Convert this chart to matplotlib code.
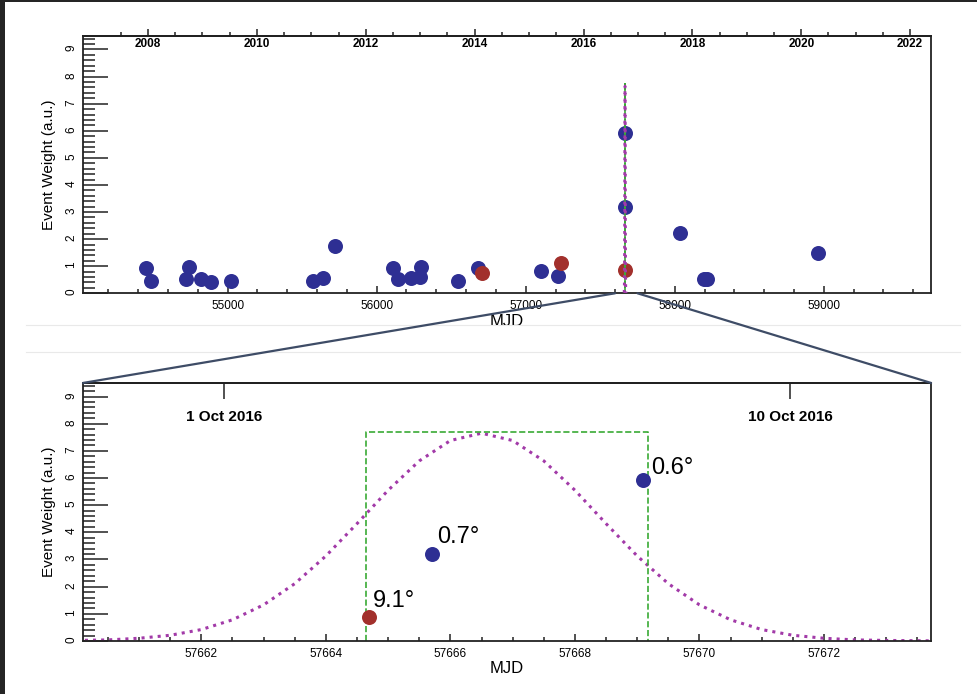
import matplotlib
matplotlib.use("Agg")
import matplotlib.pyplot as plt
from matplotlib.ticker import MultipleLocator, FixedLocator, FormatStrFormatter
from matplotlib.patches import ConnectionPatch, Rectangle
from matplotlib.lines import Line2D

plt.rcParams['font.family'] = ['Liberation Sans', 'DejaVu Sans']

# events (MJD, weight)
blue_mjd = [54451, 54483, 54718, 54740, 54823, 54890, 55020, 55575, 55642, 55721,
            56110, 56142, 56231, 56291, 56296, 56545, 56681, 57102, 57216,
            57665.70, 57669.10, 58033, 58194, 58217, 58962]
blue_weight = [0.95, 0.45, 0.52, 0.96, 0.52, 0.43, 0.45, 0.45, 0.55, 1.76,
               0.92, 0.54, 0.58, 0.59, 0.97, 0.45, 0.93, 0.81, 0.63,
               3.19, 5.93, 2.24, 0.52, 0.52, 1.49]
red_mjd = [56706, 57240, 57664.69]
red_weight = [0.76, 1.11, 0.87]

# the three events in the zoom window, with their angular separation
zoom_mjd = [57664.69, 57665.70, 57669.10]
zoom_weight = [0.87, 3.19, 5.93]
zoom_labels = ['9.1°', '0.7°', '0.6°']

# dotted time profile
prof_mjd = [57660.0, 57660.5, 57661.0, 57661.5, 57662.0, 57662.5, 57663.0, 57663.5,
            57664.0, 57664.5, 57665.0, 57665.5, 57666.0, 57666.5, 57667.0, 57667.5,
            57668.0, 57668.5, 57669.0, 57669.5, 57670.0, 57670.5, 57671.0, 57671.5,
            57672.0, 57672.5, 57673.0, 57673.5, 57674.0]
prof_weight = [0.02, 0.04, 0.10, 0.21, 0.42, 0.78, 1.33, 2.11,
               3.13, 4.32, 5.55, 6.63, 7.38, 7.65, 7.38, 6.63,
               5.55, 4.32, 3.13, 2.11, 1.33, 0.78, 0.42, 0.21,
               0.10, 0.04, 0.02, 0.01, 0.00]

# dashed time window
win_start, win_end, win_height = 57664.64, 57669.18, 7.71

years = [2008, 2010, 2012, 2014, 2016, 2018, 2020, 2022]
date_ticks = [57662.37, 57671.46]
date_labels = ['1 Oct 2016', '10 Oct 2016']

BLUE = '#2e2f93'
RED = '#a2302c'
GREEN = '#3aaa35'
PURPLE = '#a23aa8'
INK = '#222222'


def mjd2yr(m):
    return 2000 + (m - 51544) / 365.25


def yr2mjd(y):
    return (y - 2000) * 365.25 + 51544


fig = plt.figure(figsize=(9.77, 6.94), dpi=100)
ax_top = fig.add_axes([0.0850, 0.5774, 0.8680, 0.3708])
ax_bot = fig.add_axes([0.0850, 0.0764, 0.8680, 0.3718])

win_x = [win_start, win_start, win_end, win_end]
win_y = [0, win_height, win_height, 0]

for ax in (ax_top, ax_bot):
    for s in ax.spines.values():
        s.set_linewidth(1.3)
        s.set_color(INK)
    ax.set_ylim(0, 9.5)
    ax.yaxis.set_major_locator(MultipleLocator(1))
    ax.yaxis.set_minor_locator(MultipleLocator(0.2))
    ax.tick_params(axis='y', which='major', direction='in', length=18, width=1.1,
                   labelsize=8.5, labelrotation=90, pad=4, color=INK)
    ax.tick_params(axis='y', which='minor', direction='in', length=8.6, width=1.1, color=INK)
    ax.tick_params(axis='x', which='major', direction='in', length=5, width=1.1,
                   labelsize=8.5, pad=5, color=INK, top=False)
    ax.tick_params(axis='x', which='minor', direction='in', length=3, width=1.1,
                   color=INK, top=False)
    ax.set_ylabel('Event Weight (a.u.)', fontsize=11, labelpad=7)
    ax.set_xlabel('MJD', fontsize=12, labelpad=1)

# top panel: full time range
ax_top.set_xlim(54030, 59720)
ax_top.xaxis.set_major_locator(MultipleLocator(1000))
ax_top.xaxis.set_minor_locator(MultipleLocator(200))
ax_top.plot(blue_mjd, blue_weight, 'o', color=BLUE, ms=10.8, mew=0, zorder=2)
ax_top.plot(red_mjd, red_weight, 'o', color=RED, ms=10.8, mew=0, zorder=2)
ax_top.plot(win_x, win_y, '--', color=GREEN, lw=1.2, zorder=3)
ax_top.plot(prof_mjd, prof_weight, ':', color=PURPLE, lw=2, zorder=4)

yr_ax = ax_top.secondary_xaxis('top', functions=(mjd2yr, yr2mjd))
yr_ax.spines['top'].set_linewidth(1.3)
yr_ax.xaxis.set_major_locator(FixedLocator(years))
yr_ax.xaxis.set_minor_locator(FixedLocator([y + d for y in years for d in (-0.5, 0.5, 1.0)
                                            if 2007.5 <= y + d <= 2022]))
yr_ax.xaxis.set_major_formatter(FormatStrFormatter('%d'))
yr_ax.tick_params(which='major', direction='out', length=5, width=1.1, pad=-14.8,
                  labelsize=8.5, color=INK)
yr_ax.tick_params(which='minor', direction='out', length=3, width=1.1, color=INK)
for lab in yr_ax.get_xticklabels():
    lab.set_fontweight('bold')

# bottom panel: zoom on the flare
ax_bot.set_xlim(57660.1, 57673.72)
ax_bot.xaxis.set_major_locator(MultipleLocator(2))
ax_bot.xaxis.set_minor_locator(MultipleLocator(0.5))
ax_bot.plot(prof_mjd, prof_weight, ':', color=PURPLE, lw=2.2, zorder=2)
ax_bot.plot(win_x, win_y, '--', color=GREEN, lw=1.2, zorder=2)
ax_bot.plot(blue_mjd, blue_weight, 'o', color=BLUE, ms=10.8, mew=0, zorder=3)
ax_bot.plot(red_mjd, red_weight, 'o', color=RED, ms=10.8, mew=0, zorder=3)

label_offsets = [(3, 7.6), (3.6, 8), (5.8, 4.1)]
for x, y, txt, off in zip(zoom_mjd, zoom_weight, zoom_labels, label_offsets):
    ax_bot.annotate(txt, (x, y), xytext=off, textcoords='offset points',
                    fontsize=17, ha='left', va='baseline')

date_ax = ax_bot.secondary_xaxis('top')
date_ax.spines['top'].set_linewidth(1.3)
date_ax.set_xticks(date_ticks, labels=date_labels)
date_ax.tick_params(direction='in', length=11.5, width=1.1, pad=-29.5,
                    labelsize=11, color=INK)
for lab in date_ax.get_xticklabels():
    lab.set_fontweight('bold')

# zoom connectors
conn_color = '#3e4c66'
for xa, xb in [(57600, 0), (57750, 1)]:
    cp = ConnectionPatch(xyA=(xa, 0), coordsA=ax_top.transData,
                         xyB=(xb, 1), coordsB=ax_bot.transAxes,
                         color=conn_color, lw=1.6, zorder=10)
    fig.add_artist(cp)

# screenshot leftovers: faint separators and dark frame
for yy in (1 - 325 / 694, 1 - 352 / 694):
    fig.add_artist(Line2D([26 / 977, 960 / 977], [yy, yy], transform=fig.transFigure,
                          color='#e9e9e9', lw=0.8))
fig.add_artist(Rectangle((0, 0), 5 / 977, 1, transform=fig.transFigure,
                         color='#252525', lw=0))
fig.add_artist(Rectangle((0, 1 - 1.5 / 694), 1, 1.5 / 694, transform=fig.transFigure,
                         color='#252525', lw=0))

fig.savefig('out.png', dpi=100)
